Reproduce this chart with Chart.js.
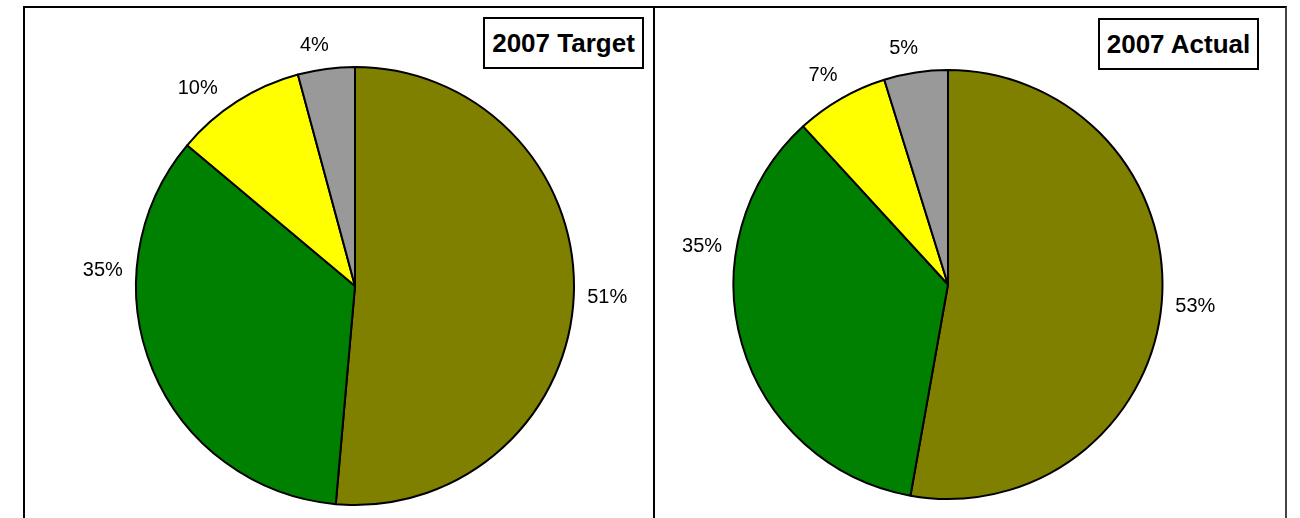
<!DOCTYPE html>
<html lang="en">
  <head>
    <meta charset="UTF-8">
    <title>2007 Target vs Actual</title>
    <script src="https://cdn.jsdelivr.net/npm/chart.js"></script>
    <style>
      body { margin: 0; background: #fff; }
      #page { position: relative; width: 1300px; height: 518px; overflow: hidden; font-family: "Liberation Sans", Arial, sans-serif; }
      .frame { position: absolute; left: 23px; top: 6px; width: 1260px; height: 530px; border: 2px solid #000; border-bottom: none; border-right-color: #444; }
      .divider { position: absolute; left: 653px; top: 6px; width: 2px; height: 520px; background: #000; }
      .wrap { position: absolute; top: 0; height: 518px; }
      .title { position: absolute; border: 2px solid #000; background: #fff; font-weight: bold; font-size: 26px; text-align: center; line-height: 48px; width: 157px; height: 48px; z-index: 2; }
    </style>
  </head>
  <body>
    <div id="page">
      <div class="frame"></div>
      <div class="divider"></div>
      <div class="wrap" style="left:0;width:654px"><canvas id="targetChart"></canvas></div>
      <div class="wrap" style="left:655px;width:645px"><canvas id="actualChart"></canvas></div>
      <div class="title" style="left:483px;top:17px">2007 Target</div>
      <div class="title" style="left:1098px;top:18px">2007 Actual</div>
    </div>
    <script>
      // segment names are not shown on the chart
      var categories = ['Segment 1', 'Segment 2', 'Segment 3', 'Segment 4'];
      var targetValues = [51.4, 34.7, 9.7, 4.2];
      var actualValues = [52.8, 35.4, 7.0, 4.8];
      var sliceColors = ['#808000', '#008000', '#ffff00', '#999999'];

      // draws the "NN%" labels outside each slice
      var outsideLabels = {
        id: 'outsideLabels',
        afterDatasetsDraw: function(chart, args, opts) {
          var ctx = chart.ctx;
          var meta = chart.getDatasetMeta(0);
          var data = chart.data.datasets[0].data;
          var total = data.reduce(function(a, b) { return a + b; }, 0);
          ctx.save();
          ctx.font = '20px "Liberation Sans", Arial, sans-serif';
          ctx.fillStyle = '#000';
          ctx.textAlign = 'center';
          ctx.textBaseline = 'middle';
          meta.data.forEach(function(arc, i) {
            var p = arc.getProps(['x', 'y', 'startAngle', 'endAngle', 'outerRadius'], true);
            var nudge = (opts.nudge[i] || 0) * Math.PI / 180;
            var mid = (p.startAngle + p.endAngle) / 2 + nudge;
            var ux = Math.cos(mid), uy = Math.sin(mid);
            var text = Math.round(data[i] / total * 100) + '%';
            var w = ctx.measureText(text).width;
            var dist = p.outerRadius + 13 + Math.abs(ux) * w / 2 + Math.abs(uy) * 10;
            ctx.fillText(text, p.x + ux * dist, p.y + uy * dist);
          });
          ctx.restore();
        }
      };

      function makePie(id, values, padding, nudge) {
        return new Chart(document.getElementById(id), {
          type: 'pie',
          data: {
            labels: categories,
            datasets: [{
              data: values,
              backgroundColor: sliceColors,
              borderColor: '#000',
              borderWidth: 2
            }]
          },
          options: {
            responsive: true,
            maintainAspectRatio: false,
            animation: false,
            layout: { padding: padding },
            plugins: {
              legend: { display: false },
              tooltip: { enabled: false },
              outsideLabels: { nudge: nudge }
            }
          },
          plugins: [outsideLabels]
        });
      }

      makePie('targetChart', targetValues, { left: 135, top: 66, right: 79, bottom: 12 }, [0, 26, -6, -2]);
      makePie('actualChart', actualValues, { left: 77, top: 69, right: 136, bottom: 18 }, [0, 25, -1, -2]);
    </script>
  </body>
</html>
